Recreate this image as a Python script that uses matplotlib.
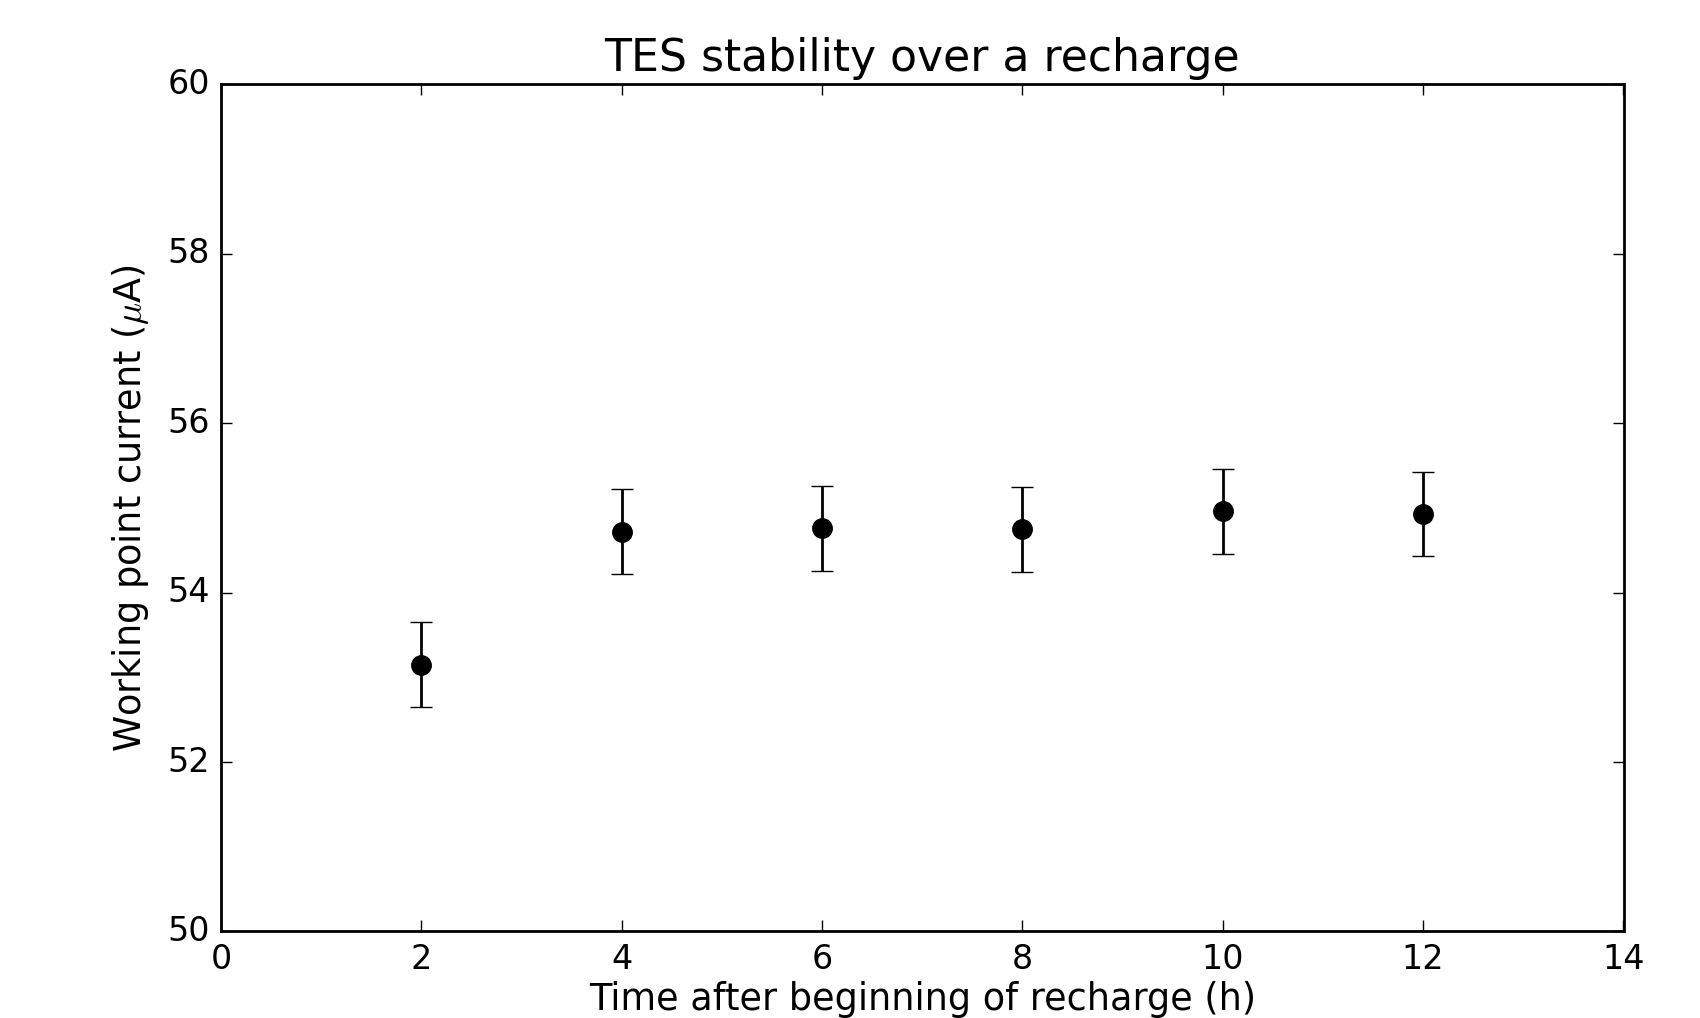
import matplotlib
matplotlib.use('Agg')
import matplotlib.pyplot as plt

# Dados
time_h = [2, 4, 6, 8, 10, 12]
current_uA = [53.15, 54.72, 54.76, 54.75, 54.96, 54.93]
current_err = [0.5, 0.5, 0.5, 0.5, 0.5, 0.5]

plt.style.use('classic')

fig = plt.figure(figsize=(8.5, 5.09), facecolor='white')
ax = fig.add_axes([0.130, 0.085, 0.825, 0.832])

ax.errorbar(time_h, current_uA, yerr=current_err, fmt='o', color='black',
            ecolor='black', markersize=7, capsize=4, elinewidth=1.0)

ax.set_xlim(0, 14)
ax.set_ylim(50, 60)
ax.set_xticks(range(0, 15, 2))
ax.set_yticks(range(50, 61, 2))
ax.set_title('TES stability over a recharge', fontsize=15.9)
ax.set_xlabel('Time after beginning of recharge (h)', fontsize=13.2, labelpad=2)
ax.set_ylabel(r'Working point current ($\mu$A)', fontsize=13.2, labelpad=6)

fig.savefig('out.png', dpi=200, facecolor='white')
